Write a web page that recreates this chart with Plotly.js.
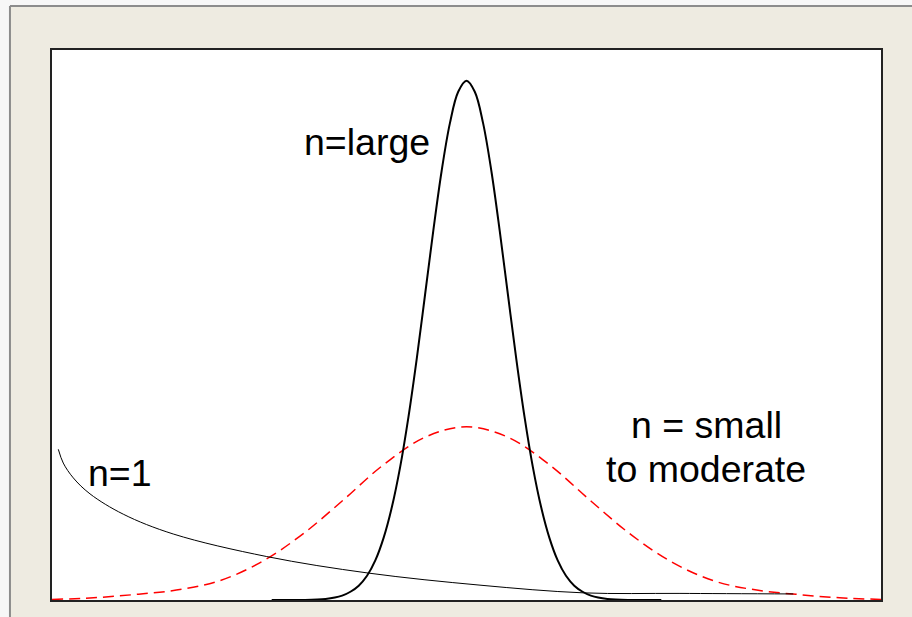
<!DOCTYPE html>
<html>
<head>
<meta charset="utf-8">
<script src="https://cdn.plot.ly/plotly-3.0.1.min.js"></script>
<style>html,body{margin:0;padding:0;background:#EEEBE1;}#chart{width:912px;height:617px;}</style>
</head>
<body>
<div id="chart"></div>
<script>
// n = large : narrow sampling distribution
const largeX = [2.65, 3.0, 3.3, 3.5, 3.6, 3.7, 3.8, 3.9, 4.0, 4.1, 4.2, 4.3, 4.4, 4.5, 4.6, 4.7, 4.8, 4.9, 5.0,
                5.1, 5.2, 5.3, 5.4, 5.5, 5.6, 5.7, 5.8, 5.9, 6.0, 6.1, 6.2, 6.3, 6.4, 6.5, 6.7, 7.0, 7.35];
const largeY = [0.000, 0.000, 0.002, 0.008, 0.015, 0.026, 0.044, 0.072, 0.113, 0.169, 0.242, 0.333, 0.439, 0.555, 0.672, 0.780, 0.867, 0.924, 0.944,
                0.924, 0.867, 0.780, 0.672, 0.555, 0.439, 0.333, 0.242, 0.169, 0.113, 0.072, 0.044, 0.026, 0.015, 0.008, 0.002, 0.000, 0.000];

// n = small to moderate : wider sampling distribution (dashed red)
const smallX = [0, 0.5, 1.0, 1.5, 2.0, 2.5, 3.0, 3.5, 4.0, 4.5, 5.0, 5.5, 6.0, 6.5, 7.0, 7.5, 8.0, 8.5, 9.0, 9.5, 10];
const smallY = [0.001, 0.004, 0.010, 0.018, 0.034, 0.067, 0.117, 0.180, 0.246, 0.296, 0.315,
                0.296, 0.246, 0.180, 0.117, 0.067, 0.034, 0.018, 0.010, 0.004, 0.001];

// n = 1 : skewed population distribution
const oneX = [0.076, 0.136, 0.257, 0.458, 0.860, 1.463, 2.590, 3.815, 5.163, 6.409, 7.575, 8.942];
const oneY = [0.274, 0.249, 0.222, 0.193, 0.156, 0.120, 0.079, 0.049, 0.027, 0.013, 0.012, 0.011];

const labels = ["n=large", "n=1", "n = small", "to moderate"];

const FONT = "Arial, 'Liberation Sans', sans-serif";

const traces = [
  {x: smallX, y: smallY, mode: "lines", line: {color: "#FF0000", width: 1.5, dash: "11px,6px", shape: "spline"}, hoverinfo: "skip"},
  {x: oneX, y: oneY, mode: "lines", line: {color: "#000000", width: 1, shape: "spline"}, hoverinfo: "skip"},
  {x: largeX, y: largeY, mode: "lines", line: {color: "#000000", width: 2, shape: "spline"}, hoverinfo: "skip"}
];

const ann = (t, x, y) => ({text: t, x: x, y: y, xref: "paper", yref: "paper", xanchor: "center", yanchor: "middle",
  showarrow: false, font: {family: FONT, size: 37.5, color: "#000000"}});

const layout = {
  width: 912, height: 617,
  margin: {l: 52, r: 31, t: 50, b: 17, pad: 0},
  paper_bgcolor: "#EEEBE1",
  plot_bgcolor: "#FFFFFF",
  showlegend: false,
  xaxis: {range: [0, 10], showgrid: false, zeroline: false, showticklabels: false, ticks: "",
          showline: true, mirror: true, linecolor: "#222222", linewidth: 2},
  yaxis: {range: [0, 1], showgrid: false, zeroline: false, showticklabels: false, ticks: "",
          showline: true, mirror: true, linecolor: "#222222", linewidth: 2},
  annotations: [
    ann(labels[0], 0.380, 0.832),
    ann(labels[1], 0.082, 0.231),
    ann(labels[2], 0.789, 0.318),
    ann(labels[3], 0.789, 0.239)
  ],
  shapes: [
    {type: "rect", xref: "paper", yref: "paper", x0: -0.08, x1: -0.0507, y0: -0.1, y1: 1.12, fillcolor: "#F7F7F7", line: {width: 0}, layer: "below"},
    {type: "rect", xref: "paper", yref: "paper", x0: -0.08, x1: 1.1, y0: 1.08, y1: 1.12, fillcolor: "#F7F7F7", line: {width: 0}, layer: "below"},
    {type: "line", xref: "paper", yref: "paper", x0: -0.0507, x1: -0.0507, y0: -0.1, y1: 1.08, line: {color: "#8C8C8C", width: 2}},
    {type: "line", xref: "paper", yref: "paper", x0: -0.0507, x1: 1.1, y0: 1.08, y1: 1.08, line: {color: "#8C8C8C", width: 2}}
  ]
};

Plotly.newPlot("chart", traces, layout, {staticPlot: true, displayModeBar: false});
</script>
</body>
</html>
